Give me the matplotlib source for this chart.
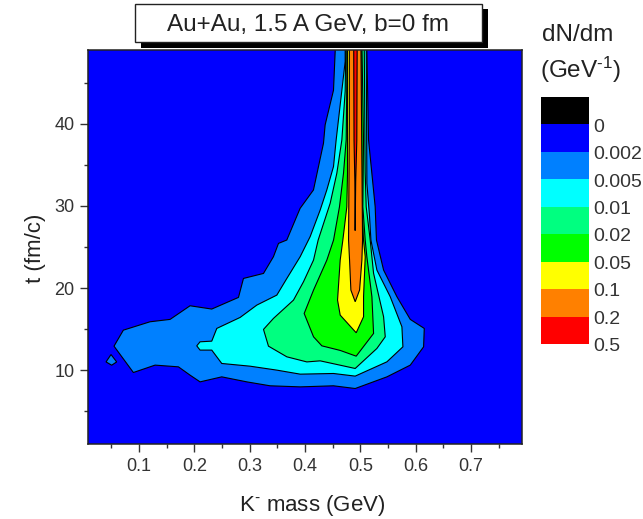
import matplotlib
matplotlib.use('Agg')
import matplotlib.pyplot as plt
from matplotlib.colors import ListedColormap
from matplotlib.patches import Rectangle
import numpy as np

plt.rcParams['font.family'] = ['Liberation Sans', 'DejaVu Sans']
plt.rcParams['mathtext.default'] = 'regular'

W, H = 643, 519

# contour outlines: K- mass (GeV) and time (fm/c)
mass_002 = [.4906, .4514, .3912, .3369, .2947, .2495, .2103, .1922, .1712, .1290, .0898, .0548,
            .0717, .1199, .1561, .1922, .2314, .2797, .2887, .3249, .3429, .3520, .3670, .3911,
            .4152, .4333, .4363, .4514, .4544, .4546,
            .5123, .5117, .5147, .5267, .5290, .5419, .5660, .5901, .6154, .6142, .5901, .5479]
t_002 = [7.76, 8.09, 7.96, 8.09, 8.57, 9.18, 8.57, 9.39, 10.40, 10.61, 9.71, 12.92,
         14.87, 15.89, 16.18, 17.84, 17.44, 18.86, 21.17, 21.78, 23.82, 25.44, 25.85, 29.71,
         31.95, 37.64, 39.88, 44.10, 48.80, 50,
         50, 48.80, 38.05, 29.90, 25.85, 22.19, 18.94, 16.18, 15.08, 12.84, 10.61, 9.18]

island_mass = [.0404, .0494, .0596, .0506]
island_t = [11.0, 11.9, 11.0, 10.6]

mass_005 = [.4906, .4514, .3912, .3490, .3007, .2495, .2314, .2103, .2043, .2103, .2314, .2405,
            .2827, .3128, .3490, .3671, .3912, .4092, .4273, .4393, .4514, .4562, .4725, .4725,
            .5105, .5117, .5165, .5190, .5298, .5539, .5750, .5768, .5479]
t_005 = [9.27, 9.59, 9.51, 10.0, 10.48, 10.81, 12.44, 12.44, 12.96, 13.45, 13.53, 15.08,
         16.42, 17.92, 19.14, 21.17, 23.82, 26.26, 29.5, 31.95, 34.8, 38.05, 47.6, 50,
         50, 32.76, 28.7, 25.85, 22.19, 18.94, 15.28, 12.84, 11.01]

mass_01 = [.4906, .4635, .4273, .4032, .3671, .3339, .3249, .3429, .3791, .3972, .4153, .4237,
           .4454, .4574, .4665, .4725, .4737,
           .5069, .5087, .5105, .5177, .5238, .5419, .5449, .5298]
t_01 = [10.2, 10.6, 11.13, 11.0, 11.62, 12.92, 14.96, 16.3, 18.53, 20.77, 23.41, 25.85,
        30.33, 33.98, 38.05, 44.0, 50,
        50, 34.0, 29.9, 25.85, 21.8, 16.5, 14.06, 12.64]

mass_02 = [.4924, .4635, .4303, .4153, .3984, .4153, .4394, .4515, .4622, .4695, .4743, .4755, .4755,
           .5027, .5056, .5044, .5087, .5117, .5208, .5238]
t_02 = [11.7, 12.4, 12.96, 14.06, 16.9, 19.75, 23.41, 25.85, 29.9, 34.0, 38.05, 45.0, 50,
        50, 38.05, 29.9, 25.85, 23.8, 18.94, 14.47]

mass_05 = [.4924, .4635, .4587, .4635, .4683, .4755, .4767, .4767,
           .5009, .5026, .5026, .5056, .5087, .5057, .5057]
t_05 = [14.55, 16.7, 18.53, 23.41, 25.85, 29.9, 34.0, 50,
        50, 34.0, 29.9, 25.85, 23.8, 18.94, 16.5]

mass_1 = [.4906, .4828, .4804, .4786, .4800, .4800,
          .5009, .5039, .5027, .4985]
t_1 = [18.33, 19.75, 23.41, 25.85, 40.0, 50,
       50, 25.85, 23.41, 19.75]

mass_2 = [.4879, .4885, .4900, .4905, .4915, .4935, .4942]
t_2 = [50, 38.0, 33.0, 27.0, 33.0, 38.0, 50]

band_colors = ['#000000', '#0000FF', '#0080FF', '#00FFFF', '#00FF80',
               '#00FF00', '#FFFF00', '#FF8000', '#FF0000']
level_labels = ['0', '0.002', '0.005', '0.01', '0.02', '0.05', '0.1', '0.2', '0.5']


def main():
    fig = plt.figure(figsize=(W / 100, H / 100), dpi=100)
    ax = fig.add_axes([88 / W, 1 - 444 / H, 434 / W, 394 / H])
    ax.set_facecolor('#0000FF')

    contours = [
        (mass_002, t_002, '#0080FF'),
        (island_mass, island_t, '#0080FF'),
        (mass_005, t_005, '#00FFFF'),
        (mass_01, t_01, '#00FF80'),
        (mass_02, t_02, '#00FF00'),
        (mass_05, t_05, '#FFFF00'),
        (mass_1, t_1, '#FF8000'),
        (mass_2, t_2, '#FF0000'),
    ]
    for m, t, c in contours:
        ax.fill(m, t, facecolor=c, edgecolor='black', linewidth=0.8)

    ax.set_xlim(0.0078, 0.792)
    ax.set_ylim(1.0, 49.0)
    ax.set_xticks(np.arange(1, 8) / 10)
    ax.set_xticks(np.arange(0.05, 0.8, 0.1), minor=True)
    ax.set_yticks([10, 20, 30, 40])
    ax.set_yticks([5, 15, 25, 35, 45], minor=True)
    ax.tick_params(which='major', length=5.8, width=1, labelsize=13, colors='#333333', pad=4)
    ax.tick_params(which='minor', length=2.9, width=1, color='#333333')
    for s in ax.spines.values():
        s.set_linewidth(1.1)
        s.set_color('#222222')
    fig.text(312 / W, 1 - 505 / H, 'K$^{\u2010}$ mass (GeV)', fontsize=16, color='#222222',
             ha='center', va='center')
    fig.text(35 / W, 1 - 248 / H, 't (fm/c)', fontsize=16, color='#222222', rotation=90,
             ha='center', va='center')

    # title box with its drop shadow
    fig.add_artist(Rectangle((141 / W, 1 - 48 / H), 347 / W, 39 / H, facecolor='black',
                             edgecolor='black', linewidth=0, transform=fig.transFigure))
    fig.add_artist(Rectangle((135 / W, 1 - 41.5 / H), 347 / W, 37.5 / H, facecolor='white',
                             edgecolor='#222222', linewidth=1, transform=fig.transFigure))
    fig.text(308 / W, 1 - 25 / H, 'Au+Au, 1.5 A GeV, b=0 fm', fontsize=17.5, color='#222222',
             ha='center', va='center')

    # colour scale
    cax = fig.add_axes([541 / W, 1 - 344 / H, 48 / W, 247 / H])
    n = len(band_colors)
    cax.pcolormesh([0, 1], np.arange(n + 1), np.arange(n).reshape(-1, 1),
                   cmap=ListedColormap(band_colors))
    cax.set_ylim(n, 0)
    cax.axis('off')
    for i, lab in enumerate(level_labels):
        cax.text(1.09, i + 1.1, lab, fontsize=14, color='#333333', ha='left', va='center',
                 clip_on=False)
    fig.text(578 / W, 1 - 35 / H, 'dN/dm', fontsize=17.5, color='#222222', ha='center', va='center')
    fig.text(581 / W, 1 - 70 / H, '(GeV$^{\u20101}$)', fontsize=17.5, color='#222222',
             ha='center', va='center')

    fig.savefig('out.png', dpi=100)


if __name__ == '__main__':
    main()
